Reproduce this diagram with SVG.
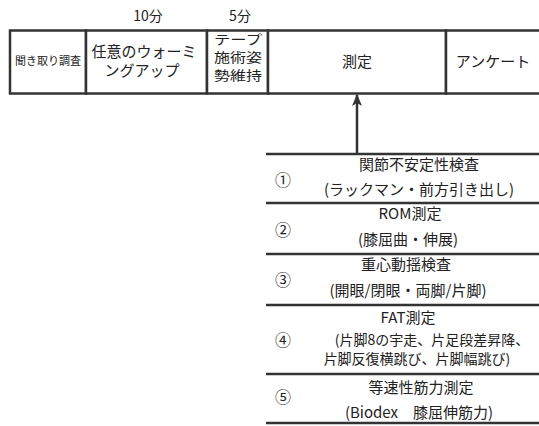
<svg xmlns="http://www.w3.org/2000/svg" width="539" height="426" viewBox="0 0 539 426">
<style>
.cell{fill:#fff;stroke:#333;stroke-width:2.5}
.sep{stroke:#333;stroke-width:2.5}
text{font-family:"Noto Sans CJK JP","Noto Sans",sans-serif;fill:#222}
.t15{font-size:15px;text-anchor:middle}
.t14{font-size:14px;text-anchor:middle}
.t13{font-size:13px;text-anchor:middle}
.num{font-size:16px;text-anchor:middle}
.conn{stroke:#333;stroke-width:2.5;fill:none}
</style>
<defs>
<marker id="arr" viewBox="0 0 12 10" refX="11" refY="5" markerWidth="12" markerHeight="10" markerUnits="userSpaceOnUse" orient="auto">
<path d="M0,0 L12,5 L0,10 L3,5 Z" fill="#333"/>
</marker>
</defs>
<rect width="539" height="426" fill="#fff"/>
<g id="time-labels">
<text class="t14" x="148" y="21">10分</text>
<text class="t14" x="240" y="21">5分</text>
</g>
<g id="node-kikitori">
<rect class="cell" x="10" y="30.5" width="76" height="63"/>
<text x="48" y="65" style="font-size:11px;text-anchor:middle">聞き取り調査</text>
</g>
<g id="node-warmup">
<rect class="cell" x="86" y="30.5" width="121" height="63"/>
<text class="t15" x="144" y="57">任意のウォーミ</text>
<text class="t15" x="142" y="76">ングアップ</text>
</g>
<g id="node-tape">
<rect class="cell" x="207" y="30.5" width="61" height="63"/>
<text class="t13" x="238" y="44" textLength="48" lengthAdjust="spacingAndGlyphs">テープ</text>
<text class="t13" x="238" y="62" textLength="48" lengthAdjust="spacingAndGlyphs">施術姿</text>
<text class="t13" x="238" y="80" textLength="48" lengthAdjust="spacingAndGlyphs">勢維持</text>
</g>
<g id="node-sokutei">
<rect class="cell" x="268" y="30.5" width="178" height="63"/>
<text class="t15" x="357" y="67">測定</text>
</g>
<g id="node-enquete">
<rect class="cell" x="446" y="30.5" width="100" height="63"/>
<text class="t15" x="493" y="67">アンケート</text>
</g>
<g id="connectors">
<line class="conn" x1="357" y1="154" x2="357" y2="95" marker-end="url(#arr)"/>
</g>
<g id="item-1">
<line class="sep" x1="266" y1="154" x2="539" y2="154"/>
<text class="num" x="283" y="186">①</text>
<text class="t15" x="419" y="170">関節不安定性検査</text>
<text class="t15" x="419" y="195">(ラックマン・前方引き出し)</text>
</g>
<g id="item-2">
<line class="sep" x1="266" y1="203" x2="539" y2="203"/>
<text class="num" x="283" y="236">②</text>
<text class="t15" x="410" y="219">ROM測定</text>
<text class="t15" x="408" y="245">(膝屈曲・伸展)</text>
</g>
<g id="item-3">
<line class="sep" x1="266" y1="254" x2="539" y2="254"/>
<text class="num" x="283" y="286">③</text>
<text class="t15" x="406" y="270">重心動揺検査</text>
<text class="t15" x="408" y="296">(開眼/閉眼・両脚/片脚)</text>
</g>
<g id="item-4">
<line class="sep" x1="266" y1="305" x2="539" y2="305"/>
<text class="num" x="283" y="346">④</text>
<text class="t15" x="408" y="323">FAT測定</text>
<text class="t14" x="432" y="345">(片脚8の宇走、片足段差昇降、</text>
<text class="t14" x="417" y="364">片脚反復横跳び、片脚幅跳び)</text>
</g>
<g id="item-5">
<line class="sep" x1="266" y1="374" x2="539" y2="374"/>
<text class="num" x="283" y="403">⑤</text>
<text class="t15" x="421" y="393">等速性筋力測定</text>
<text class="t15" x="419" y="418">(Biodex　膝屈伸筋力)</text>
<line class="sep" x1="266" y1="423" x2="539" y2="423"/>
</g>
</svg>
